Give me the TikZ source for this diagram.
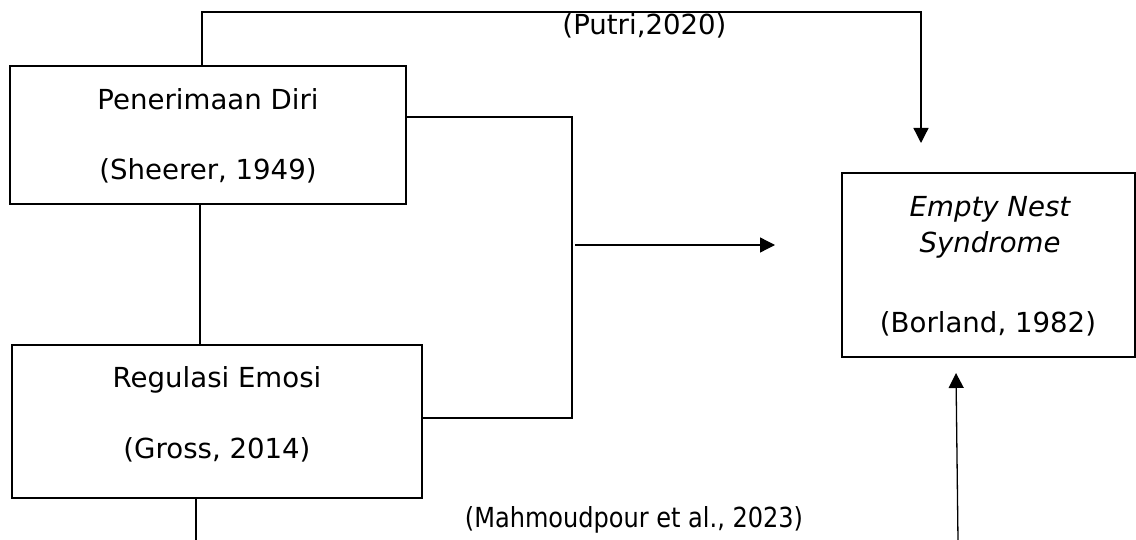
\documentclass[tikz,border=0pt]{standalone}
\usepackage{fontspec}
\setmainfont{DejaVu Sans}
\usetikzlibrary{arrows.meta}
\begin{document}
\begin{tikzpicture}[x=1pt,y=-1pt,
  txt/.style={inner sep=0pt,anchor=base,font=\fontsize{27.6}{33}\selectfont},
  itxt/.style={txt,font=\fontsize{27.6}{33}\selectfont\itshape},
  box/.style={draw,line width=2.4pt,inner sep=0pt},
  conn/.style={line width=1.3pt},
  arr/.style={conn,-{Triangle[width=15pt,length=15pt]}}]
\useasboundingbox (0,0) rectangle (1136,540);
% boxes
\node[box,minimum width=396pt,minimum height=138pt] (b1) at (208,135) {};
\node[box,minimum width=410pt,minimum height=153pt] (b2) at (217,421.5) {};
\node[box,minimum width=293pt,minimum height=184pt] (b3) at (988.5,265) {};
% texts
\node[txt] (t1a) at (208,110) {Penerimaan Diri};
\node[txt] (t1b) at (208,180) {(Sheerer, 1949)};
\node[txt] (t2a) at (217,387) {Regulasi Emosi};
\node[txt] (t2b) at (217,458) {(Gross, 2014)};
\node[itxt] (t3a) at (990,217) {Empty Nest};
\node[itxt] (t3b) at (990,253) {Syndrome};
\node[txt] (t3c) at (988,333) {(Borland, 1982)};
\node[txt] (lp) at (644.5,35) {(Putri,2020)};
\node[txt] (lm) at (634,527) {\scalebox{0.871}[1]{(Mahmoudpour et al., 2023)}};
% coordinates
\coordinate (topL) at (202,12);
\coordinate (topR) at (921,12);
\coordinate (tip1) at (921,143);
\coordinate (mid1) at (572,117);
\coordinate (mid2) at (572,418);
\coordinate (a1s) at (575,245);
\coordinate (a1e) at (775,245);
\coordinate (bot1) at (196,540);
\coordinate (up1) at (958,540);
\coordinate (tip2) at (956,373);
% connectors
\draw[arr] (b1.north -| topL) -- (topL) -- (topR) -- (tip1);
\draw[conn] (b1.east |- mid1) -- (mid1) -- (mid2) -- (b2.east |- mid2);
\draw[arr] (a1s) -- (a1e);
\draw[conn] (b1.south -| 200,0) -- (b2.north -| 200,0);
\draw[conn] (b2.south -| bot1) -- (bot1);
\draw[arr] (up1) -- (tip2);
\end{tikzpicture}
\end{document}
